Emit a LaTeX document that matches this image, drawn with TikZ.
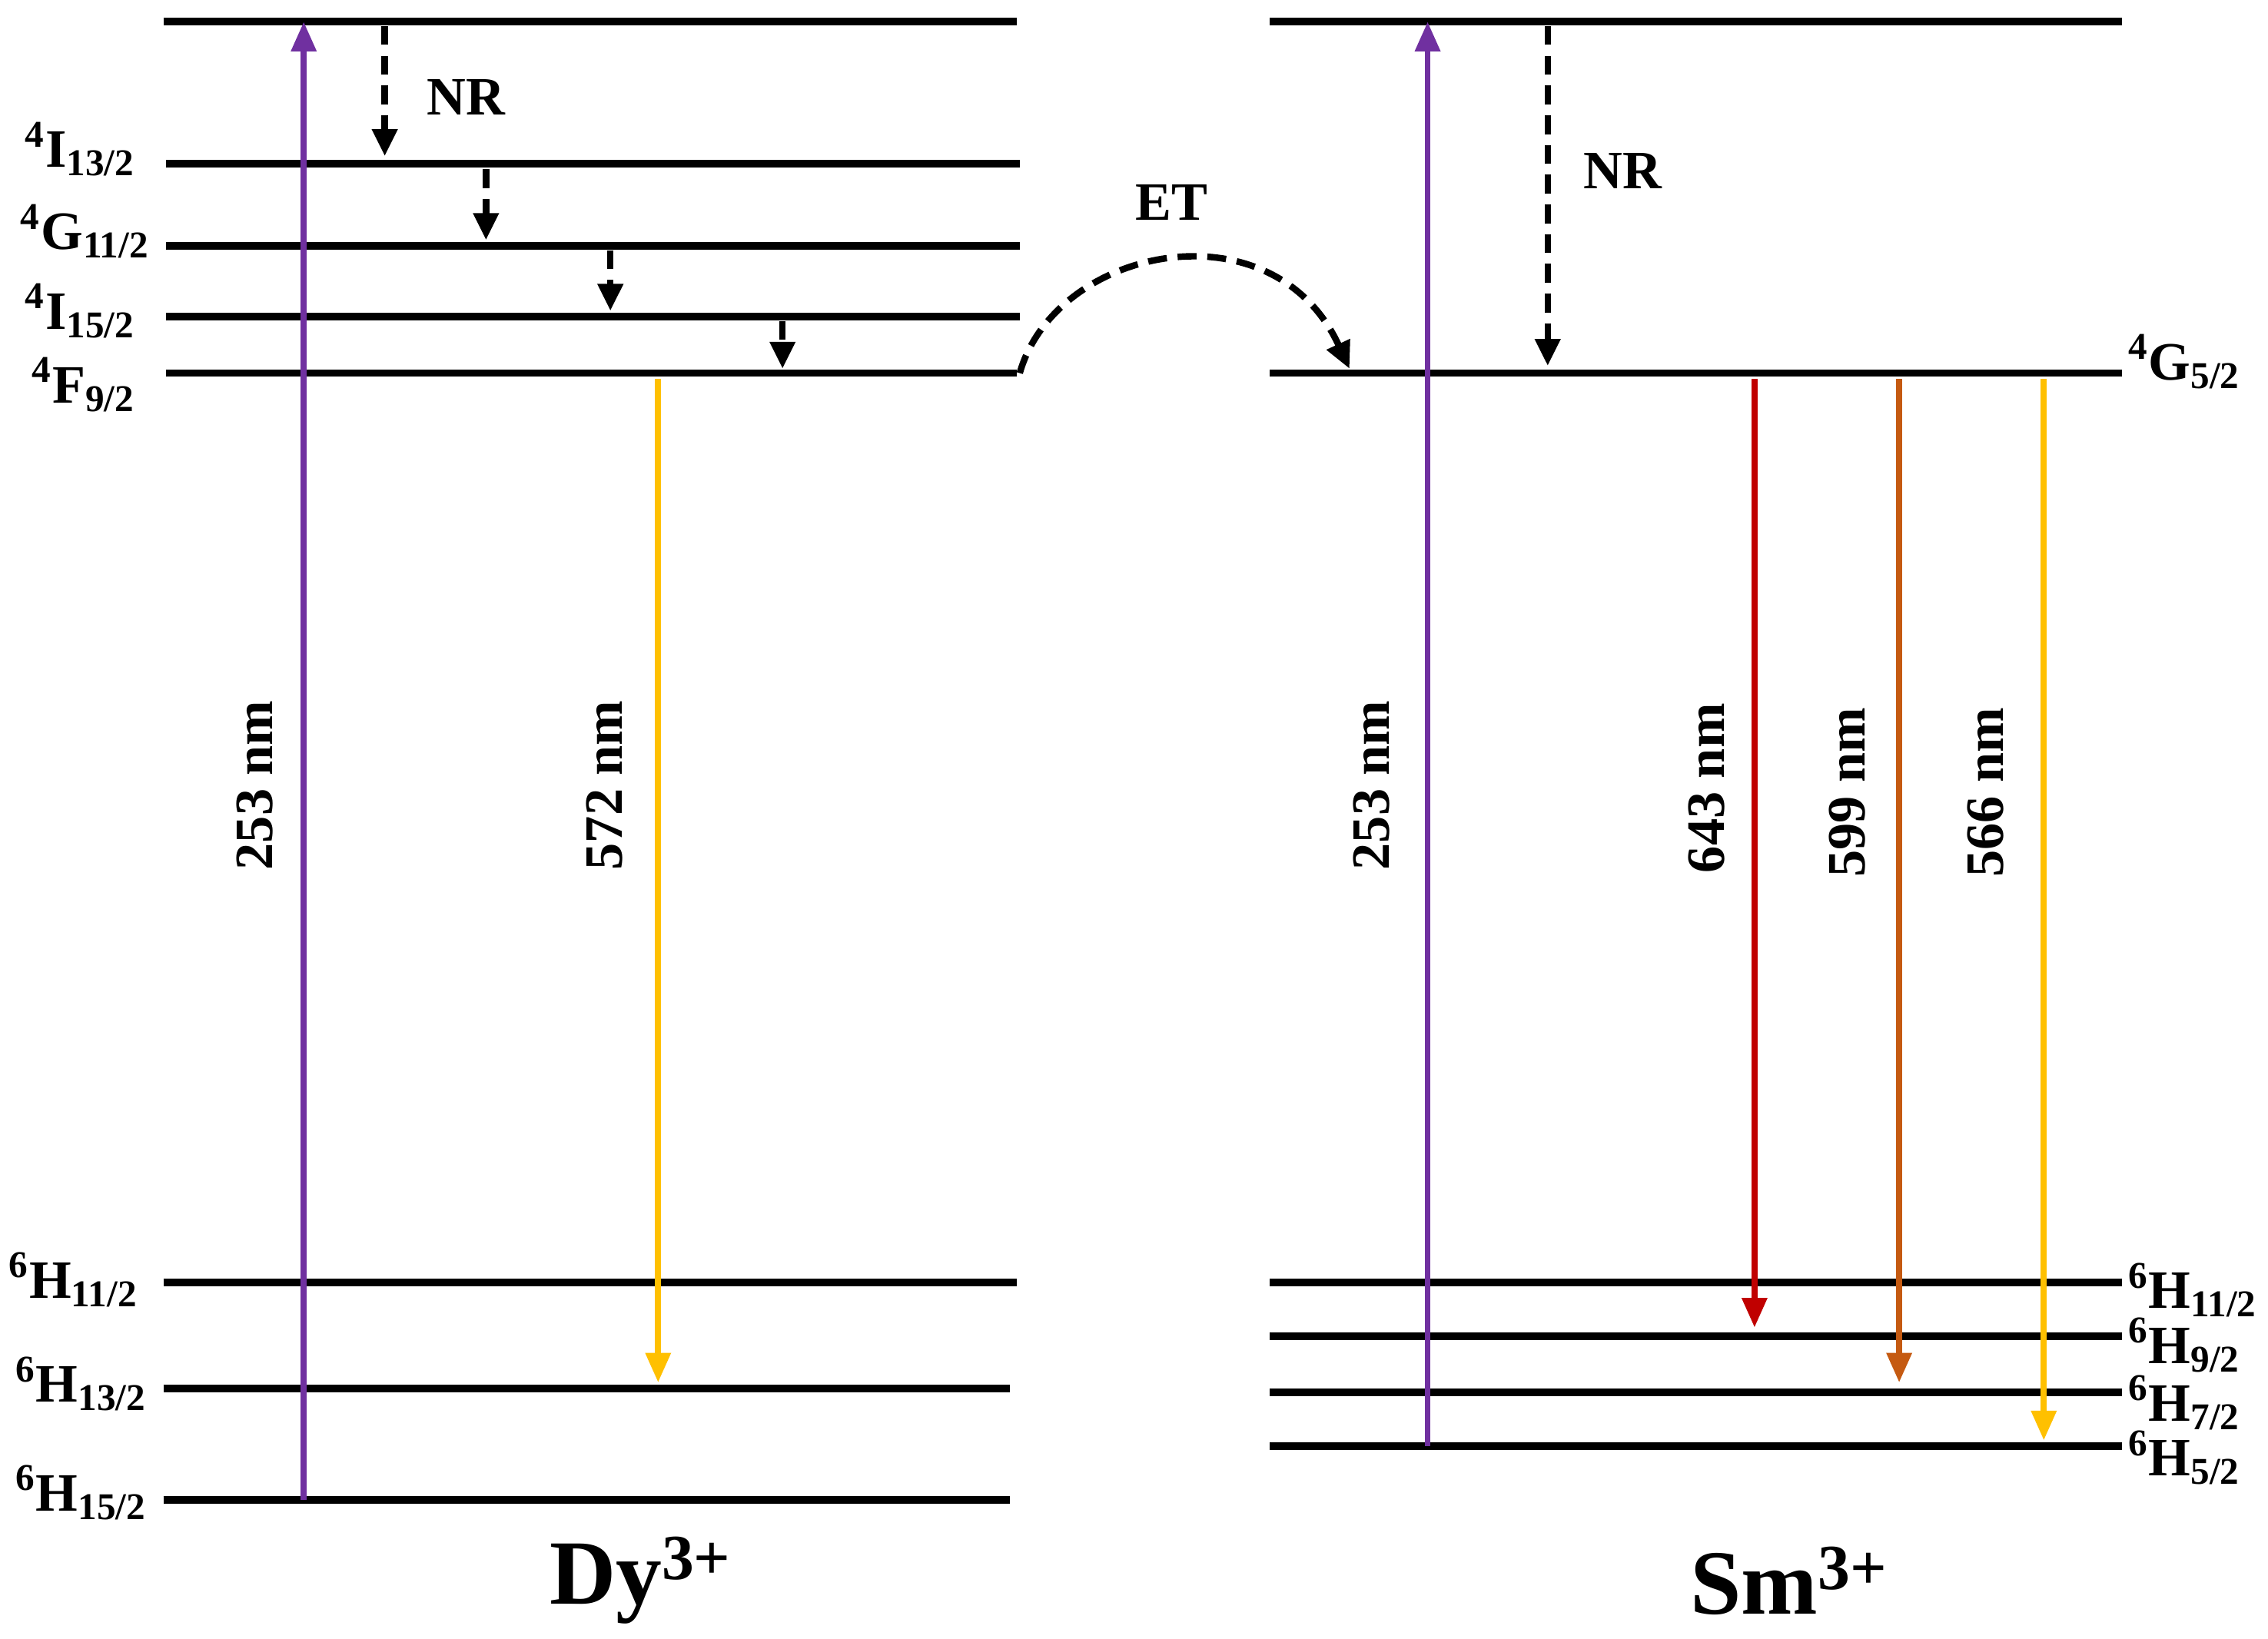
\documentclass[tikz,border=0pt]{standalone}
\usepackage{fontspec}
\setmainfont{Liberation Serif}
\usetikzlibrary{arrows.meta}
\definecolor{pur}{RGB}{112,48,160}
\definecolor{yel}{RGB}{255,192,0}
\definecolor{rd}{RGB}{192,0,0}
\definecolor{org}{RGB}{197,90,17}
\newcommand{\lv}[3]{\textsuperscript{#1}#2\textsubscript{#3}}
\begin{document}
\begin{tikzpicture}[x=0.01882cm,y=-0.01882cm,
 lev/.style={line width=2.8pt},
 tr/.style={line width=2.2pt,-{Triangle[length=11pt,width=9pt]}},
 nr/.style={line width=2.4pt,dash pattern=on 7pt off 4pt,-{Triangle[length=10pt,width=9pt]}},
 lab/.style={font=\bfseries\fontsize{20}{24}\selectfont},
 wl/.style={font=\bfseries\fontsize{20}{24}\selectfont,rotate=90}]
\useasboundingbox (0,0) rectangle (1568,1133);
\foreach \n/\y/\xa/\xb in {lt/15/113/703,la/113/115/705,lb/170/115/705,lc/219/115/705,ld/258/115/703,le/887/113/703,lf/960/113/698,lg/1037/113/698}{
 \coordinate (\n1) at (\xa,\y); \coordinate (\n2) at (\xb,\y);
 \draw[lev] (\n1) -- (\n2);}
\foreach \n/\y in {rt/15,ra/258,rb/887,rc/924,rd/963,re/1000}{
 \coordinate (\n1) at (878,\y); \coordinate (\n2) at (1467,\y);
 \draw[lev] (\n1) -- (\n2);}
\node[lab,anchor=east] (t1) at (100,103) {\lv{4}{I}{13/2}};
\node[lab,anchor=east] (t2) at (110,160) {\lv{4}{G}{11/2}};
\node[lab,anchor=east] (t3) at (100,215) {\lv{4}{I}{15/2}};
\node[lab,anchor=east] (t4) at (100,266) {\lv{4}{F}{9/2}};
\node[lab,anchor=east] (t5) at (102,885) {\lv{6}{H}{11/2}};
\node[lab,anchor=east] (t6) at (108,957) {\lv{6}{H}{13/2}};
\node[lab,anchor=east] (t7) at (108,1032) {\lv{6}{H}{15/2}};
\node[lab,anchor=west] (u1) at (1465,250) {\lv{4}{G}{5/2}};
\node[lab,anchor=west] (u2) at (1465,892) {\lv{6}{H}{11/2}};
\node[lab,anchor=west] (u3) at (1465,930) {\lv{6}{H}{9/2}};
\node[lab,anchor=west] (u4) at (1465,970) {\lv{6}{H}{7/2}};
\node[lab,anchor=west] (u5) at (1465,1008) {\lv{6}{H}{5/2}};
\coordinate (p1) at (210,1037); \coordinate (p2) at (210,15);
\draw[tr,pur] (p1) -- (p2);
\coordinate (q1) at (987,1000); \coordinate (q2) at (987,15);
\draw[tr,pur] (q1) -- (q2);
\coordinate (y1) at (455,262); \coordinate (y2) at (455,956);
\draw[tr,yel] (y1) -- (y2);
\coordinate (r1) at (1213,262); \coordinate (r2) at (1213,918);
\draw[tr,rd] (r1) -- (r2);
\coordinate (o1) at (1313,262); \coordinate (o2) at (1313,956);
\draw[tr,org] (o1) -- (o2);
\coordinate (s1) at (1413,262); \coordinate (s2) at (1413,996);
\draw[tr,yel] (s1) -- (s2);
\foreach \x/\a/\b in {266/18/108,336/117/166,422/173/215,541/222/255,1070/18/253}{
 \coordinate (na) at (\x,\a); \coordinate (nb) at (\x,\b);
 \draw[nr] (na) -- (nb);}
\coordinate (e1) at (705,258); \coordinate (e2) at (933,255);
\draw[nr] (e1) .. controls (730,170) and (880,140) .. (e2);
\node[lab] (nr1) at (322,67) {NR};
\node[lab] (nr2) at (1122,118) {NR};
\node[lab] (et) at (810,140) {ET};
\node[wl] (w1) at (176,543) {253 nm};
\node[wl] (w2) at (418,543) {572 nm};
\node[wl] (w3) at (948,543) {253 nm};
\node[wl] (w4) at (1180,545) {643 nm};
\node[wl] (w5) at (1277,548) {599 nm};
\node[wl] (w6) at (1373,548) {566 nm};
\node[font=\bfseries\fontsize{34}{40}\selectfont] (dy) at (443,1093) {Dy\textsuperscript{3+}};
\node[font=\bfseries\fontsize{34}{40}\selectfont] (sm) at (1237,1093) {Sm\textsuperscript{3+}};
\end{tikzpicture}
\end{document}
